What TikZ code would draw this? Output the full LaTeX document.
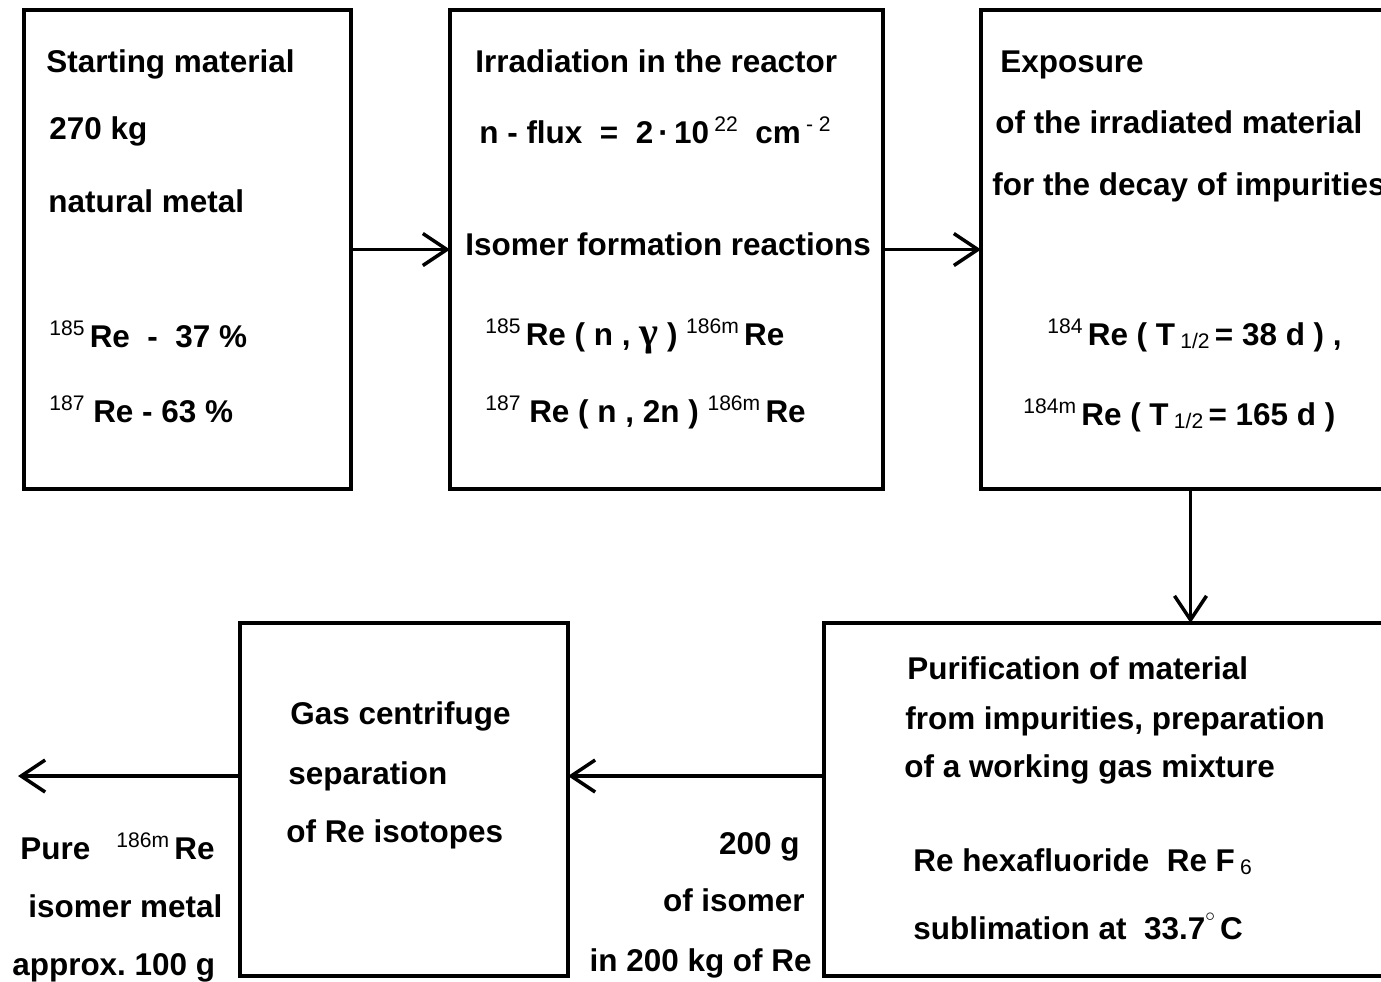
\documentclass[tikz,border=0pt]{standalone}
\usepackage{fontspec}
\setmainfont{Liberation Sans}
\newfontfamily\greekfont{Liberation Serif}
\usetikzlibrary{arrows.meta}
\newcommand{\supnum}[1]{\raisebox{0.36em}{\fontsize{12}{12}\selectfont\mdseries #1}}
\newcommand{\subnum}[1]{\raisebox{-0.12em}{\fontsize{12}{12}\selectfont\mdseries #1}}
\tikzset{
  stagebox/.style={
    draw,
    line width=2.3pt,
    inner sep=0pt,
    outer sep=0pt,
    minimum height=9.58cm
  },
  flowarc/.style={
    -{Straight Barb[length=4.8mm,width=6.4mm]},
    line width=2pt
  },
  txt/.style={
    anchor=base west,
    inner sep=0pt,
    font=\fontsize{17.9}{21}\selectfont\bfseries
  },
  txtr/.style={
    txt,
    anchor=base east
  }
}
\begin{document}
\begin{tikzpicture}
  \useasboundingbox (0,0) rectangle (27.62,-19.62);
  \clip (0,0) rectangle (27.62,-19.62);

  % upper row
  \node[stagebox, minimum width=6.54cm] (s1) at (3.75,-4.99) {};
  \node[stagebox, minimum width=8.66cm] (s2) at (13.33,-4.99) {};
  \node[stagebox, minimum width=8.38cm] (s3) at (23.81,-4.99) {};

  % lower row
  \node[stagebox, minimum width=11.52cm, minimum height=7.06cm] (s4) at (22.24,-15.99) {};
  \node[stagebox, minimum width=6.56cm, minimum height=7.06cm] (s5) at (8.08,-15.99) {};
  \coordinate (out) at (0.36,-15.52);

  \draw[flowarc] (s1.east) -- (s2.west);
  \draw[flowarc] (s2.east) -- (s3.west);
  \draw[flowarc] (s3.south) -- (s3.south |- s4.north);
  \draw[flowarc] ([yshift=0.47cm]s4.west) -- ([yshift=0.47cm]s5.east);
  \draw[flowarc] ([yshift=0.47cm]s5.west) -- (out);

  % starting material
  \node[txt] (a1) at (0.92,-1.44) {Starting material};
  \node[txt] (a2) at (0.98,-2.78) {270 kg};
  \node[txt] (a3) at (0.96,-4.24) {natural metal};
  \node[txt] (a4) at (0.98,-6.94) {\supnum{185}\,Re\ \ -\ \ 37 \%};
  \node[txt] (a5) at (0.98,-8.44) {\supnum{187}\ Re - 63 \%};

  % irradiation
  \node[txt] (b1) at (9.50,-1.44) {Irradiation in the reactor};
  \node[txt] (b2) at (9.58,-2.86) {n - flux\ \ =\ \ 2\,·\,10\,\supnum{22}\ \ cm\,\supnum{- 2}};
  \node[txt] (b3) at (9.30,-5.10) {Isomer formation reactions};
  \node[txt] (b4) at (9.70,-6.90) {\supnum{185}\,Re ( n , {\greekfont\fontsize{23}{23}\selectfont γ} ) \supnum{186m}\,Re};
  \node[txt] (b5) at (9.70,-8.44) {\supnum{187}\ Re ( n , 2n ) \supnum{186m}\,Re};

  % exposure
  \node[txt] (c1) at (20.00,-1.44) {Exposure};
  \node[txt] (c2) at (19.90,-2.66) {of the irradiated material};
  \node[txt] (c3) at (19.84,-3.90) {for the decay of impurities};
  \node[txt] (c4) at (20.94,-6.90) {\supnum{184}\,Re ( T\,\subnum{1/2}\,= 38 d ) ,};
  \node[txt] (c5) at (20.46,-8.50) {\supnum{184m}\,Re ( T\,\subnum{1/2}\,= 165 d )};

  % purification
  \node[txt] (d1) at (18.14,-13.58) {Purification of material};
  \node[txt] (d2) at (18.10,-14.58) {from impurities, preparation};
  \node[txt] (d3) at (18.08,-15.54) {of a working gas mixture};
  \node[txt] (d4) at (18.26,-17.42) {Re hexafluoride\ \ Re F\,\subnum{6}};
  \node[txt] (d5) at (18.26,-18.78) {sublimation at\ \ 33.7\raisebox{0.55em}{\fontsize{11}{11}\selectfont$\circ$}\,C};

  % centrifuge
  \node[txt] (e1) at (5.80,-14.48) {Gas centrifuge};
  \node[txt] (e2) at (5.76,-15.68) {separation};
  \node[txt] (e3) at (5.72,-16.84) {of Re isotopes};

  % labels on the lower arrows
  \node[txtr] (m1) at (16.00,-17.08) {200 g};
  \node[txtr] (m2) at (16.10,-18.22) {of isomer};
  \node[txtr] (m3) at (16.24,-19.42) {in 200 kg of Re};

  \node[txt] (p1) at (0.40,-17.18) {Pure\ \ \ \supnum{186m}\,Re};
  \node[txt] (p2) at (0.56,-18.34) {isomer metal};
  \node[txt] (p3) at (0.24,-19.50) {approx.\ 100 g};
\end{tikzpicture}
\end{document}
